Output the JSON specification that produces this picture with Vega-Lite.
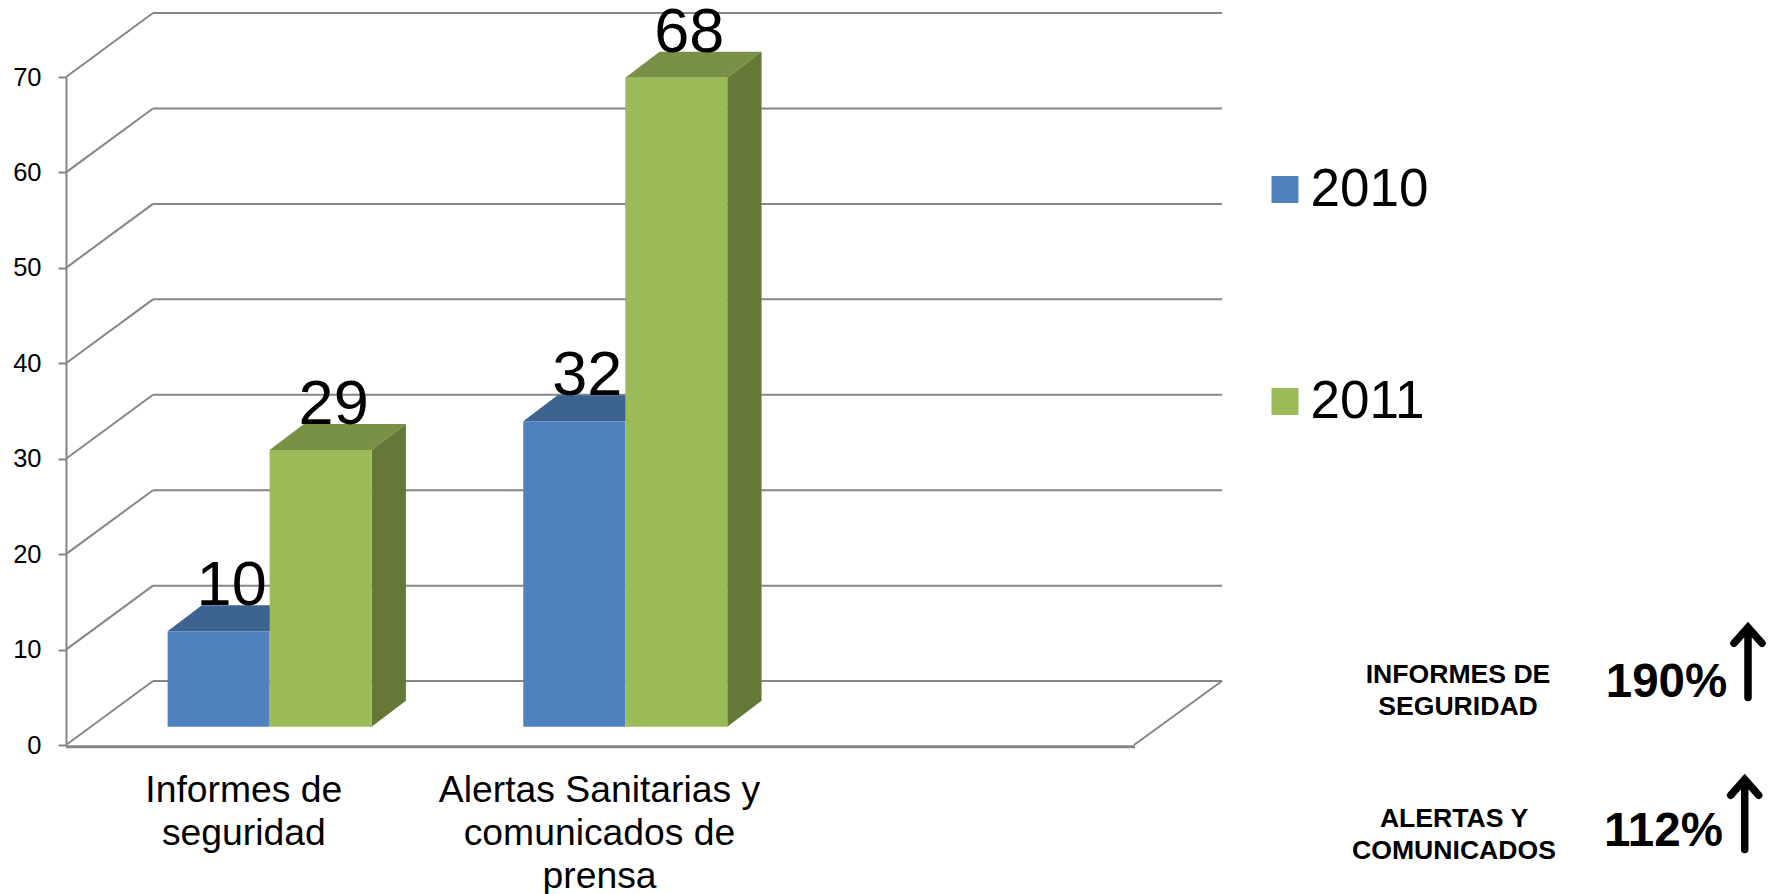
{
"$schema":"https://vega.github.io/schema/vega-lite/v6.json",
"width":1067,"height":668,
"autosize":{"type":"none"},
"padding":{"left":66,"top":77,"right":637,"bottom":149},
"background":"white",
"config":{"view":{"stroke":null},"font":"Liberation Sans"},
"datasets":{
"bars":[
{"category":"Informes de seguridad","year":"2010","value":10},
{"category":"Informes de seguridad","year":"2011","value":29},
{"category":"Alertas Sanitarias y comunicados de prensa","year":"2010","value":32},
{"category":"Alertas Sanitarias y comunicados de prensa","year":"2011","value":68}],
"grid":[{"v":0},{"v":10},{"v":20},{"v":30},{"v":40},{"v":50},{"v":60},{"v":70}]
},
"resolve":{"scale":{"x":"independent","color":"independent"},"axis":{"x":"independent"}},
"layer":[
{"data":{"name":"grid"},"transform":[{"calculate":"datum.v+6.7","as":"yb"}],
 "mark":{"type":"rule","color":"#868686","strokeWidth":2},
 "encoding":{"x":{"value":87},"x2":{"value":1156},
  "y":{"field":"yb","type":"quantitative","scale":{"domain":[0,70],"nice":false},
   "axis":{"values":[0,10,20,30,40,50,60,70],"title":null,"grid":false,"tickSize":8,"tickWidth":2,"tickColor":"#868686","domainColor":"#868686","domainWidth":2,"labelFontSize":25.5,"labelPadding":17,"labelColor":"#000000","labelFont":"Liberation Sans"}}}},
{"data":{"name":"grid"},"transform":[{"calculate":"datum.v+6.7","as":"yb"}],
 "mark":{"type":"rule","color":"#868686","strokeWidth":2},
 "encoding":{"x":{"value":0},"x2":{"value":87},
  "y":{"field":"v","type":"quantitative"},"y2":{"field":"yb"}}},
{"data":{"name":"grid"},"transform":[{"filter":"datum.v==0"},{"calculate":"datum.v+6.7","as":"yb"}],
 "mark":{"type":"rule","color":"#868686","strokeWidth":2},
 "encoding":{"x":{"value":1068},"x2":{"value":1156},
  "y":{"field":"v","type":"quantitative"},"y2":{"field":"yb"}}},
{"data":{"name":"grid"},"transform":[{"filter":"datum.v==0"}],
 "mark":{"type":"rule","color":"#868686","strokeWidth":3,"yOffset":1.7},
 "encoding":{"x":{"value":0},"x2":{"value":1069},"y":{"field":"v","type":"quantitative"}}},
{"data":{"name":"bars"},
 "transform":[
  {"calculate":"datum.value+1.92","as":"T"},
  {"calculate":"203.6+355.67*indexof(['Informes de seguridad','Alertas Sanitarias y comunicados de prensa'],datum.category)+(datum.year=='2010'?-102:0)","as":"xl"},
  {"calculate":"datum.xl+102","as":"xr"},
  {"calculate":"[0,1,2,3]","as":"k"},{"flatten":["k"]},
  {"calculate":"datum.k==0?datum.xl:datum.k==1?datum.xl+34.3:datum.k==2?datum.xr:datum.xr+34.3","as":"ax"},
  {"calculate":"datum.k<3?datum.T:datum.T+2.72","as":"ylow"},
  {"calculate":"datum.k==0?datum.T:datum.T+2.72","as":"yhigh"}],
 "mark":{"type":"area","orient":"vertical"},
 "encoding":{
  "x":{"field":"ax","type":"quantitative","scale":{"domain":[0,1067],"nice":false,"zero":false},"axis":null},
  "y":{"field":"yhigh","type":"quantitative","stack":null},"y2":{"field":"ylow"},
  "detail":{"field":"category"},
  "color":{"field":"year","type":"nominal","scale":{"domain":["2010","2011"],"range":["#3D6491","#789146"]},"legend":null}}},
{"data":{"name":"bars"},
 "transform":[
  {"filter":"datum.year=='2011'"},
  {"calculate":"datum.value+1.92","as":"T"},
  {"calculate":"305.6+355.67*indexof(['Informes de seguridad','Alertas Sanitarias y comunicados de prensa'],datum.category)","as":"xr"},
  {"calculate":"[0,1]","as":"k"},{"flatten":["k"]},
  {"calculate":"datum.xr+datum.k*34.3","as":"ax"},
  {"calculate":"datum.T+datum.k*2.72","as":"ytop"},
  {"calculate":"1.92+datum.k*2.72","as":"ybot"}],
 "mark":{"type":"area","orient":"vertical","color":"#667837"},
 "encoding":{
  "x":{"field":"ax","type":"quantitative","scale":{"domain":[0,1067],"nice":false,"zero":false},"axis":null},
  "y":{"field":"ytop","type":"quantitative","stack":null},"y2":{"field":"ybot"},
  "detail":{"field":"category"}}},
{"data":{"name":"bars"},
 "transform":[{"calculate":"datum.value+1.92","as":"T"},{"calculate":"1.92","as":"B"}],
 "mark":{"type":"bar"},
 "encoding":{
  "x":{"field":"category","type":"nominal","sort":null,
   "scale":{"domain":["Informes de seguridad","Alertas Sanitarias y comunicados de prensa"," "],"range":[25.8,1092.8],"paddingInner":0.4264,"paddingOuter":0.2132},
   "axis":{"title":null,"domain":false,"ticks":false,"labelAngle":0,"labelOffset":-25.8,"labelFontSize":37.3,"labelLineHeight":43,"labelPadding":27,"labelColor":"#000000","labelFont":"Liberation Sans","labelLimit":0,"labelBaseline":"top",
    "labelExpr":"datum.value=='Informes de seguridad'?['Informes de','seguridad']:datum.value==' '?'':['Alertas Sanitarias y','comunicados de','prensa']"}},
  "xOffset":{"field":"year","type":"nominal"},
  "y":{"field":"T","type":"quantitative","stack":null},"y2":{"field":"B"},
  "color":{"field":"year","type":"nominal","scale":{"domain":["2010","2011"],"range":["#4F81BD","#9BBB59"]},
   "legend":{"title":null,"orient":"none","legendX":1192.5,"legendY":86,"symbolType":"square","symbolSize":729,"symbolStrokeWidth":0,"labelFontSize":53,"labelFont":"Liberation Sans","labelColor":"#000000","rowPadding":158,"labelOffset":-1}}}},
{"data":{"name":"bars"},
 "transform":[{"calculate":"datum.value+1.92+2.72","as":"L"}],
 "mark":{"type":"text","fontSize":63,"font":"Liberation Sans","color":"#000000","baseline":"alphabetic","align":"center","dx":13,"dy":0},
 "encoding":{
  "x":{"field":"category","type":"nominal","sort":null,
   "scale":{"domain":["Informes de seguridad","Alertas Sanitarias y comunicados de prensa"," "],"range":[25.8,1092.8],"paddingInner":0.4264,"paddingOuter":0.2132},"axis":null},
  "xOffset":{"field":"year","type":"nominal"},
  "y":{"field":"L","type":"quantitative"},
  "text":{"field":"value","type":"quantitative"}}},
{"data":{"values":[{"label":"INFORMES DE\nSEGURIDAD"}]},
 "mark":{"type":"text","fontSize":26.6,"fontWeight":"bold","font":"Liberation Sans","lineBreak":"\n","lineHeight":32,"baseline":"alphabetic","align":"center","color":"#000000"},
 "encoding":{"x":{"value":1392},"y":{"value":605.7},"text":{"field":"label"}}},
{"data":{"values":[{"label":"ALERTAS Y\nCOMUNICADOS"}]},
 "mark":{"type":"text","fontSize":26.6,"fontWeight":"bold","font":"Liberation Sans","lineBreak":"\n","lineHeight":32,"baseline":"alphabetic","align":"center","color":"#000000"},
 "encoding":{"x":{"value":1388},"y":{"value":750},"text":{"field":"label"}}},
{"data":{"values":[{"pct":"190%"}]},
 "mark":{"type":"text","fontSize":47.5,"fontWeight":"bold","font":"Liberation Sans","baseline":"alphabetic","align":"center","color":"#000000"},
 "encoding":{"x":{"value":1600.5},"y":{"value":620},"text":{"field":"pct"}}},
{"data":{"values":[{"pct":"112%"}]},
 "mark":{"type":"text","fontSize":47.5,"fontWeight":"bold","font":"Liberation Sans","baseline":"alphabetic","align":"center","color":"#000000"},
 "encoding":{"x":{"value":1597.5},"y":{"value":769},"text":{"field":"pct"}}},
{"data":{"values":[{"arrow":"190%"}]},
 "mark":{"type":"point","shape":"M0,-1 L0,1 M-0.4,-0.55 L0,-1 L0.4,-0.55","size":4900,"filled":false,"stroke":"#000000","strokeWidth":7.5,"opacity":1,"strokeCap":"round"},
 "encoding":{"x":{"value":1682},"y":{"value":585.5}}},
{"data":{"values":[{"arrow":"112%"}]},
 "mark":{"type":"point","shape":"M0,-1 L0,1 M-0.4,-0.55 L0,-1 L0.4,-0.55","size":4900,"filled":false,"stroke":"#000000","strokeWidth":7.5,"opacity":1,"strokeCap":"round"},
 "encoding":{"x":{"value":1678.7},"y":{"value":737.5}}}
]
}
